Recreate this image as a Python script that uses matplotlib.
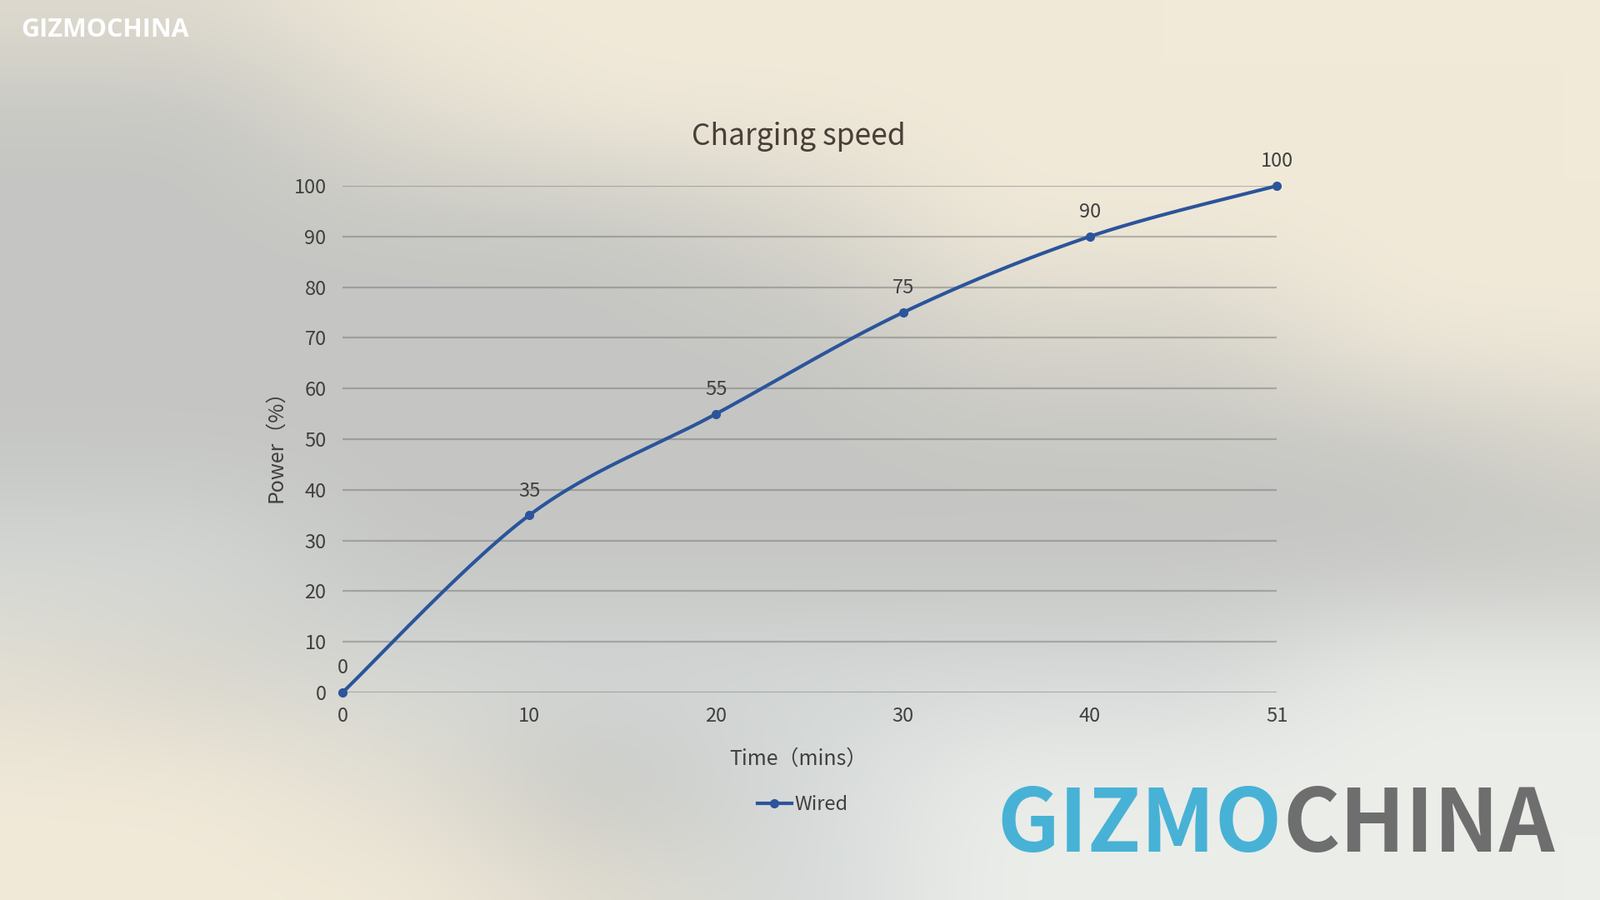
import numpy as np
import matplotlib
matplotlib.use("Agg")
import matplotlib.pyplot as plt
from matplotlib.lines import Line2D

# Chart data
times = ["0", "10", "20", "30", "40", "51"]
power = [0, 35, 55, 75, 90, 100]
y_ticks = [0, 10, 20, 30, 40, 50, 60, 70, 80, 90, 100]
series_name = "Wired"
title = "Charging speed"
x_label = "Time（mins）"
y_label = "Power（%）"

plt.rcParams["font.family"] = ["Noto Sans CJK SC", "DejaVu Sans"]
plt.rcParams["font.weight"] = "light"

txt_color = "#404040"
line_color = "#2b549b"

W, H = 1920, 1080
fig = plt.figure(figsize=(W / 100, H / 100), dpi=100)

#############################################################
# Blurry photo-like background
#############################################################
pal = {
    "B": (241, 234, 217),
    "b": (226, 221, 208),
    "g": (214, 211, 202),
    "G": (197, 198, 195),
    "L": (213, 217, 216),
    "W": (236, 238, 234),
}
rows = [
    "bbBBBBBBB",
    "GGbBBBBBB",
    "GGGGgBBBB",
    "GGGGGggBB",
    "GGGGGGGGg",
    "LLGGGGGGG",
    "bgLLLLLWW",
    "BBbGLWWWW",
    "BBBbLWWWW",
]
grid = np.array([[pal[c] for c in r] for r in rows], dtype=float) / 255.0

def upsample(g, h, w):
    gy = np.linspace(0, g.shape[0] - 1, h)
    gx = np.linspace(0, g.shape[1] - 1, w)
    tmp = np.empty((g.shape[0], w, 3))
    for i in range(g.shape[0]):
        for c in range(3):
            tmp[i, :, c] = np.interp(gx, np.arange(g.shape[1]), g[i, :, c])
    out = np.empty((h, w, 3))
    for j in range(w):
        for c in range(3):
            out[:, j, c] = np.interp(gy, np.arange(g.shape[0]), tmp[:, j, c])
    return out

def blur(img, sigma):
    k = np.arange(-3 * sigma, 3 * sigma + 1)
    k = np.exp(-k ** 2 / (2 * sigma ** 2))
    k /= k.sum()
    pad = len(k) // 2
    p = np.pad(img, ((pad, pad), (pad, pad), (0, 0)), mode="edge")
    tmp = np.apply_along_axis(lambda v: np.convolve(v, k, mode="valid"), 0, p)
    return np.apply_along_axis(lambda v: np.convolve(v, k, mode="valid"), 1, tmp)

bg = np.clip(blur(upsample(grid, 108, 192), 6), 0, 1)

bg_ax = fig.add_axes([0, 0, 1, 1], zorder=-10)
bg_ax.imshow(bg, extent=[0, 1, 0, 1], aspect="auto", interpolation="bicubic")
bg_ax.axis("off")

#############################################################
# Chart
#############################################################
left, right = 411 / W, 1532 / W
bottom, top = 1 - 831 / H, 1 - 223 / H
ax = fig.add_axes([left, bottom, right - left, top - bottom])
ax.patch.set_alpha(0)

xs = np.arange(len(times))

# Smoothed line (Excel style bezier through the points)
def smooth_curve(x, y, n=50):
    pts = np.column_stack([x, y]).astype(float)
    padded = np.vstack([pts[0], pts, pts[-1]])
    t = np.linspace(0, 1, n)[:, None]
    segs = []
    for i in range(len(pts) - 1):
        p0, p1, p2, p3 = padded[i], padded[i + 1], padded[i + 2], padded[i + 3]
        c1 = p1 + (p2 - p0) / 6
        c2 = p2 - (p3 - p1) / 6
        seg = (1 - t) ** 3 * p1 + 3 * (1 - t) ** 2 * t * c1 + 3 * (1 - t) * t ** 2 * c2 + t ** 3 * p2
        segs.append(seg if i == 0 else seg[1:])
    s = np.vstack(segs)
    return s[:, 0], s[:, 1]

sx, sy = smooth_curve(xs, power)
ax.plot(sx, sy, color=line_color, lw=3.0, solid_capstyle="round", zorder=3, clip_on=False)
ax.plot(xs, power, "o", color=line_color, ms=7, zorder=4, clip_on=False)

for x, v in zip(xs, power):
    ax.annotate(str(v), (x, v), xytext=(0, 21), textcoords="offset points",
                ha="center", va="center", fontsize=17, color=txt_color)

ax.set_xlim(0, len(times) - 1)
ax.set_ylim(0, 100)
ax.set_xticks(xs)
ax.set_xticklabels(times)
ax.set_yticks(y_ticks)
ax.tick_params(axis="both", length=0, labelsize=17, labelcolor=txt_color)
ax.tick_params(axis="y", pad=14)
ax.tick_params(axis="x", pad=12)
for s in ax.spines.values():
    s.set_visible(False)
ax.yaxis.grid(True, color="#6f6f6f", alpha=0.45, lw=1.6)
ax.set_axisbelow(True)

fig.text(958 / W, 1 - 164 / H, title, ha="center", va="center", fontsize=25.5, color="#4a3f37")
fig.text(958 / W, 1 - 911 / H, x_label, ha="center", va="center", fontsize=18, color=txt_color)
fig.text(331 / W, 1 - 529 / H, y_label, ha="center", va="center", fontsize=18, color=txt_color,
         rotation=90)

handle = Line2D([], [], color=line_color, lw=3.0, marker="o", ms=7)
ax.legend([handle], [series_name], loc="center", bbox_to_anchor=(963 / W, 1 - 966 / H),
          bbox_transform=fig.transFigure, frameon=False, fontsize=17, handlelength=1.75,
          handletextpad=0.15, labelcolor=txt_color)

#############################################################
# Watermarks
#############################################################
fig.text(25 / W, 1 - 36 / H, "GIZMOCHINA", ha="left", va="center", fontsize=22,
         fontweight="bold", color="white", family=["Open Sans", "DejaVu Sans"])
fig.text(1539 / W, 1 - 991 / H, "GIZMO", ha="right", va="center", fontsize=75,
         fontweight="bold", color="#47b2d6")
fig.text(1539 / W, 1 - 991 / H, "CHINA", ha="left", va="center", fontsize=75,
         fontweight="bold", color="#6e6e6e")

fig.savefig("out.png", dpi=100)
